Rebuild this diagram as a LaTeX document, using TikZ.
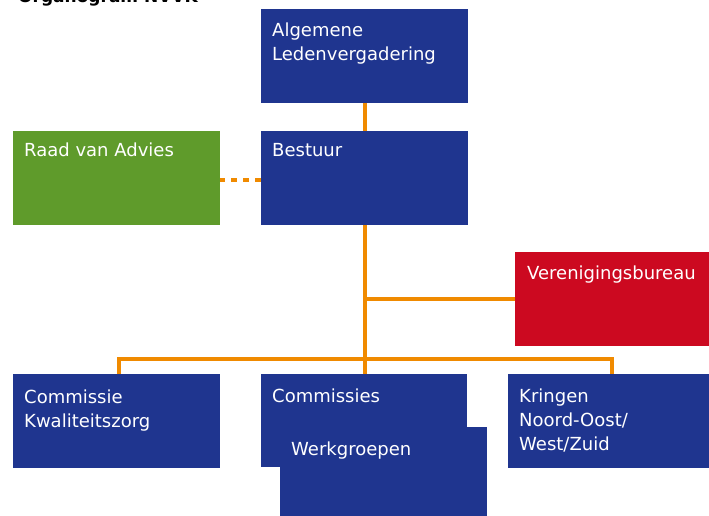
\documentclass[tikz,border=0pt]{standalone}
\usepackage{fontspec}
\setmainfont{DejaVu Sans}
\begin{document}
\begin{tikzpicture}[x=1pt,y=-1pt,
  box/.style={draw=none,rectangle,inner sep=0pt,anchor=north west,minimum width=207pt,minimum height=94pt},
  navy/.style={box,fill=boxnavy},
  lbl/.style={anchor=base west,inner sep=0pt,text=white,font=\fontsize{18pt}{24pt}\selectfont,align=left},
  conn/.style={draw=lineorange,line width=3.6pt},
  dotconn/.style={draw=lineorange,line width=4pt,dash pattern=on 6pt off 6pt,dash phase=1pt}]
\definecolor{boxnavy}{HTML}{1F358F}
\definecolor{boxgreen}{HTML}{5F9B2B}
\definecolor{boxred}{HTML}{CC0920}
\definecolor{lineorange}{HTML}{F08A00}
\useasboundingbox (0,0) rectangle (709,516);
\clip (0,0) rectangle (709,516);
\fill[white] (0,0) rectangle (709,516);
% title (cut off at top, as in the reference)
\node[anchor=base west,inner sep=0pt,font=\bfseries\fontsize{17pt}{20pt}\selectfont] (title) at (18,3) {Organogram NVVK};
\coordinate (hbar) at (364,359);
% boxes
\node[navy] (alv) at (261,9) {};
\node[navy] (bestuur) at (261,131) {};
\node[box,fill=boxgreen] (raad) at (13,131) {};
\node[box,fill=boxred,minimum width=200pt] (bureau) at (515,252) {};
\node[navy] (kz) at (13,374) {};
\node[navy,minimum width=206pt,minimum height=93pt] (comm) at (261,374) {};
\node[navy,minimum height=100pt] (werk) at (280,427) {};
\node[navy] (kr) at (508,374) {};
% connectors
\draw[conn] (alv.south) -- (bestuur.north);
\draw[conn] (bestuur.south) -- (bestuur.south |- comm.north);
\draw[conn] (bureau.west) -- (bureau.west -| bestuur.south);
\draw[conn] ([xshift=2.5pt]kz.north) |- (hbar) -| ([xshift=0.5pt]kr.north);
\draw[dotconn] ([yshift=-1.5pt]raad.east) -- ([yshift=-1.5pt]bestuur.west);
% labels (base = baseline of the last line)
\node[lbl] (talv) at (272,61) {Algemene\\Ledenvergadering};
\node[lbl] (tbestuur) at (272,157) {Bestuur};
\node[lbl] (traad) at (24,157) {Raad van Advies};
\node[lbl] (tbureau) at (527,279) {Verenigingsbureau};
\node[lbl] (tkz) at (24,427) {Commissie\\Kwaliteitszorg};
\node[lbl] (tcomm) at (272,402) {Commissies};
\node[lbl] (twerk) at (291,455) {Werkgroepen};
\node[lbl] (tkr) at (519,450) {Kringen\\Noord-Oost/\\West/Zuid};
\end{tikzpicture}
\end{document}
